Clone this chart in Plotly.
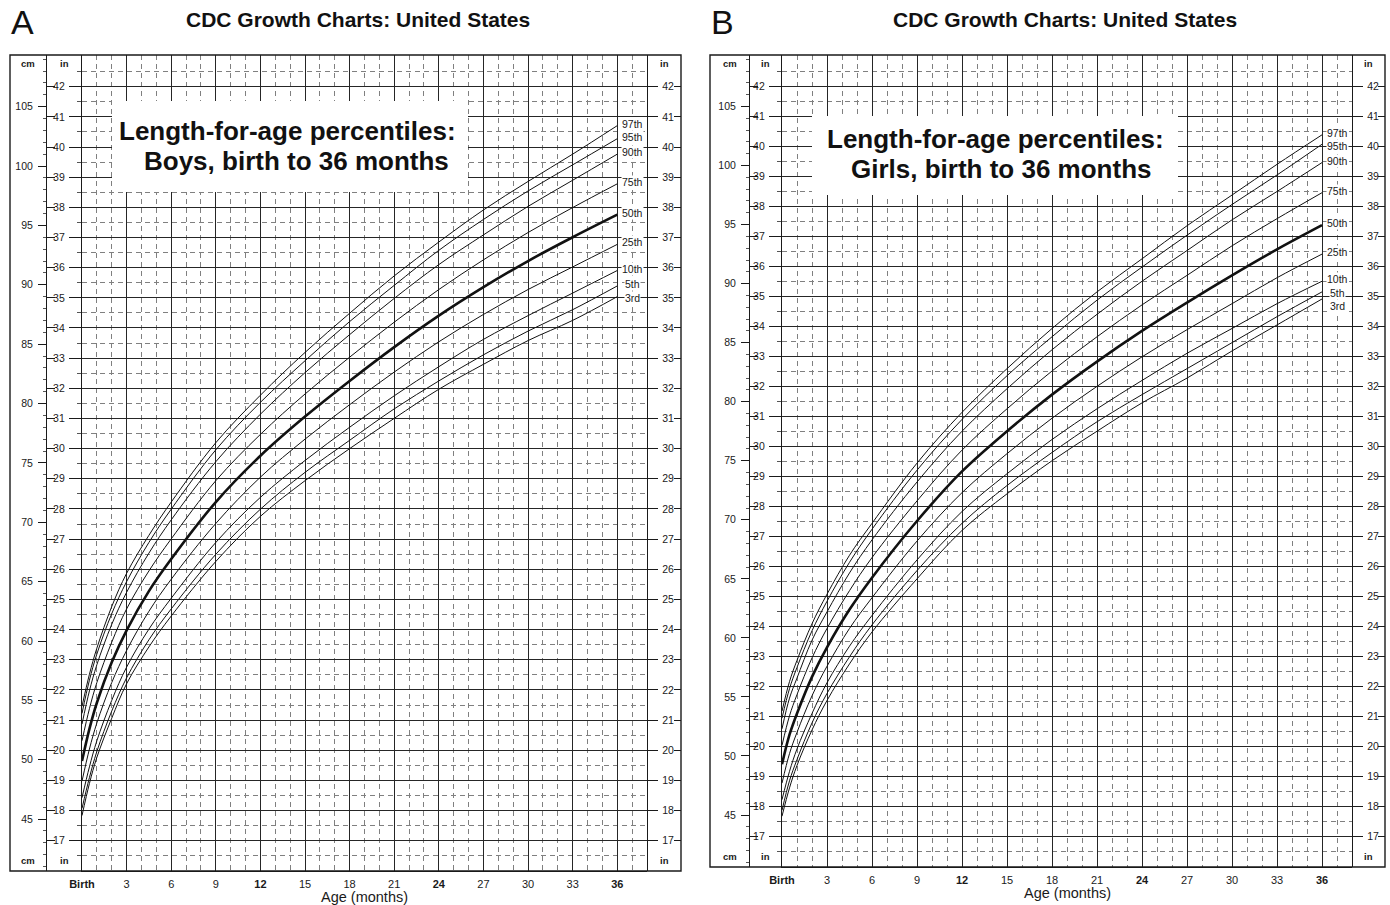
import plotly.graph_objects as go

W, H = 1390, 905

# ---------------- data (cm) ----------------
AGES = [0, 0.5, 1, 2, 3, 4.5, 6, 9, 12, 15, 18, 21, 24, 27, 30, 33, 36]
PERCENTILES = ["3rd", "5th", "10th", "25th", "50th", "75th", "90th", "95th", "97th"]

BOYS_P3 = [45.3, 48.0, 50.2, 53.5, 56.4, 59.5, 62.1, 66.7, 70.5, 73.5, 76.2, 78.75, 81.2, 83.3, 85.3, 87.0, 89.0]
BOYS_P5 = [45.9, 48.5, 50.7, 54.1, 56.9, 60.1, 62.7, 67.3, 71.1, 74.2, 76.9, 79.55, 81.9, 84.1, 86.1, 87.9, 89.9]
BOYS_P10 = [46.8, 49.4, 51.6, 55.0, 57.8, 61.0, 63.6, 68.3, 72.1, 75.2, 78.0, 80.65, 83.1, 85.4, 87.4, 89.3, 91.2]
BOYS_P25 = [48.2, 50.9, 53.1, 56.5, 59.2, 62.5, 65.2, 69.9, 73.8, 77.0, 79.9, 82.65, 85.2, 87.5, 89.6, 91.5, 93.4]
BOYS_P50 = [49.9, 52.6, 54.8, 58.2, 60.9, 64.2, 66.9, 71.7, 75.6, 78.9, 81.9, 84.75, 87.4, 89.8, 92.0, 94.0, 95.9]
BOYS_P75 = [51.6, 54.3, 56.5, 59.9, 62.7, 65.9, 68.6, 73.5, 77.4, 80.8, 83.9, 86.85, 89.6, 92.1, 94.4, 96.5, 98.5]
BOYS_P90 = [53.0, 55.8, 58.0, 61.4, 64.1, 67.4, 70.2, 75.1, 79.1, 82.6, 85.8, 88.85, 91.7, 94.2, 96.6, 98.8, 101.0]
BOYS_P95 = [53.9, 56.7, 58.9, 62.3, 65.0, 68.3, 71.1, 76.1, 80.1, 83.6, 86.9, 89.95, 92.9, 95.5, 97.9, 100.1, 102.3]
BOYS_P97 = [54.5, 57.2, 59.4, 62.9, 65.7, 68.9, 71.7, 76.7, 80.7, 84.3, 87.6, 90.75, 93.6, 96.3, 98.7, 101.0, 103.4]

GIRLS_P3 = [44.9, 47.3, 49.2, 52.2, 54.7, 57.8, 60.5, 65.0, 69.1, 72.2, 75.0, 77.5, 79.9, 82.0, 84.3, 86.5, 88.7]
GIRLS_P5 = [45.4, 47.9, 49.7, 52.8, 55.3, 58.4, 61.1, 65.7, 69.7, 72.9, 75.7, 78.3, 80.6, 82.8, 85.0, 87.2, 89.3]
GIRLS_P10 = [46.3, 48.7, 50.6, 53.6, 56.2, 59.3, 61.9, 66.6, 70.7, 73.9, 76.8, 79.4, 81.8, 84.1, 86.2, 88.3, 90.2]
GIRLS_P25 = [47.7, 50.2, 52.0, 55.1, 57.6, 60.8, 63.4, 68.2, 72.3, 75.6, 78.6, 81.3, 83.8, 86.1, 88.3, 90.5, 92.5]
GIRLS_P50 = [49.3, 51.8, 53.6, 56.7, 59.2, 62.4, 65.1, 69.9, 74.1, 77.5, 80.6, 83.4, 86.0, 88.4, 90.7, 92.9, 94.95]
GIRLS_P75 = [50.9, 53.4, 55.2, 58.3, 60.8, 64.0, 66.8, 71.6, 75.9, 79.4, 82.6, 85.5, 88.2, 90.7, 93.2, 95.5, 97.7]
GIRLS_P90 = [52.3, 54.9, 56.6, 59.8, 62.2, 65.5, 68.3, 73.2, 77.5, 81.1, 84.4, 87.4, 90.2, 92.8, 95.4, 97.8, 100.25]
GIRLS_P95 = [53.2, 55.7, 57.5, 60.6, 63.1, 66.4, 69.2, 74.2, 78.5, 82.2, 85.5, 88.6, 91.4, 94.1, 96.7, 99.2, 101.8]
GIRLS_P97 = [53.8, 56.3, 58.1, 61.2, 63.7, 67.0, 69.7, 74.8, 79.1, 82.8, 86.2, 89.3, 92.1, 94.9, 97.5, 100.1, 102.6]

BOYS = [BOYS_P3, BOYS_P5, BOYS_P10, BOYS_P25, BOYS_P50, BOYS_P75, BOYS_P90, BOYS_P95, BOYS_P97]
GIRLS = [GIRLS_P3, GIRLS_P5, GIRLS_P10, GIRLS_P25, GIRLS_P50, GIRLS_P75, GIRLS_P90, GIRLS_P95, GIRLS_P97]

MONTH_TICKS = list(range(0, 37, 3))
MONTH_TEXT = ["<b>Birth</b>", "3", "6", "9", "<b>12</b>", "15", "18", "21", "<b>24</b>",
              "27", "30", "33", "<b>36</b>"]
MONTH_MINOR = [m for m in range(1, 38) if m % 3]
INCH_TICKS = list(range(17, 43))
INCH_HALF = [i + 0.5 for i in range(16, 43)]
CM_TICKS = list(range(45, 106, 5))
CM_MINOR = [c for c in range(41, 110) if c % 5]

TITLE = "CDC Growth Charts: United States"

FONT = "Liberation Sans, Arial, Helvetica, sans-serif"
INK = "#1a1a1a"
GRID_MAJOR = "#262626"
GRID_MINOR = "#808080"


def px(x):
    return x / W


def py(y):
    return 1 - y / H


PANELS = [
    dict(data=BOYS, letter="A", letter_x=22, title_x=358,
         fl=10, sep=46, birth=82, gr=647, fr=681, top=55, bot=871,
         cm=(40.63, 109.35), box=(112, 101, 468, 192),
         lines=("Length-for-age percentiles:", "Boys, birth to 36 months"),
         text_x=(287, 296), text_y=(131, 161), xlab_y=897),
    dict(data=GIRLS, letter="B", letter_x=722, title_x=1065,
         fl=710, sep=749, birth=782, gr=1352, fr=1385, top=55, bot=867,
         cm=(40.6, 109.36), box=(812, 116, 1178, 195),
         lines=("Length-for-age percentiles:", "Girls, birth to 36 months"),
         text_x=(995, 1001), text_y=(139, 169), xlab_y=893),
]

fig = go.Figure()
layout = {}
shapes = []
annotations = []

for i, p in enumerate(PANELS):
    xid = "x" if i == 0 else "x2"
    xname = "xaxis" if i == 0 else "xaxis2"
    n0 = 1 + 5 * i
    yids = ["y" if n == 1 else f"y{n}" for n in range(n0, n0 + 5)]
    ynames = ["yaxis" if n == 1 else f"yaxis{n}" for n in range(n0, n0 + 5)]
    ycm = yids[0]
    dom = [py(p["bot"]), py(p["top"])]
    inr = [p["cm"][0] / 2.54, p["cm"][1] / 2.54]
    tickfont = dict(family=FONT, size=10.5, color=INK)

    layout[xname] = dict(
        domain=[px(p["birth"]), px(p["gr"])], range=[0, 38], anchor=ycm,
        tickmode="array", tickvals=MONTH_TICKS, ticktext=MONTH_TEXT, ticks="",
        showgrid=True, gridcolor=GRID_MAJOR, gridwidth=1, zeroline=False,
        showline=True, linecolor=INK, linewidth=1.2, automargin=False,
        tickfont=dict(family=FONT, size=11, color=INK), ticklabelstandoff=3,
        minor=dict(tickmode="array", tickvals=MONTH_MINOR, showgrid=True,
                   gridcolor=GRID_MINOR, gridwidth=1, griddash="5px,4px", ticks=""),
        fixedrange=True,
    )
    common = dict(automargin=False, fixedrange=True, zeroline=False)
    # cm axis
    layout[ynames[0]] = dict(
        domain=dom, range=list(p["cm"]), anchor="free", position=px(p["sep"]), side="left",
        tickmode="array", tickvals=CM_TICKS, ticks="outside", ticklen=8, tickcolor=INK,
        showgrid=False, showline=True, linecolor=INK, linewidth=1,
        tickfont=tickfont, ticklabelstandoff=3,
        minor=dict(tickmode="array", tickvals=CM_MINOR, ticks="outside", ticklen=3,
                   tickcolor="#555", showgrid=False),
        **common,
    )
    # inner inch axis with the grid
    layout[ynames[1]] = dict(
        range=inr, overlaying=ycm, anchor=xid, side="left",
        tickmode="array", tickvals=INCH_TICKS, ticks="outside", ticklen=12, tickcolor=INK,
        showgrid=True, gridcolor=GRID_MAJOR, gridwidth=1,
        showline=True, linecolor=INK, linewidth=1.2, tickfont=tickfont, ticklabelstandoff=2,
        minor=dict(tickmode="array", tickvals=INCH_HALF, ticks="outside", ticklen=4,
                   tickcolor="#555", showgrid=True, gridcolor=GRID_MINOR, gridwidth=1,
                   griddash="5px,4px"),
        **common,
    )
    # dash from cm/in separator
    layout[ynames[2]] = dict(
        range=inr, overlaying=ycm, anchor="free", position=px(p["sep"]), side="right",
        tickmode="array", tickvals=INCH_TICKS, ticks="outside", ticklen=8, tickcolor=INK,
        showticklabels=False, showgrid=False, showline=False, **common,
    )
    # right inch axis
    layout[ynames[3]] = dict(
        range=inr, overlaying=ycm, anchor="free", position=px(p["gr"]), side="right",
        tickmode="array", tickvals=INCH_TICKS, ticks="outside", ticklen=10, tickcolor=INK,
        showticklabels=True, tickfont=tickfont, ticklabelstandoff=2,
        showgrid=False, showline=True, linecolor=INK, linewidth=1.2, **common,
    )
    # dash at right frame
    layout[ynames[4]] = dict(
        range=inr, overlaying=ycm, anchor="free", position=px(p["fr"]), side="left",
        tickmode="array", tickvals=INCH_TICKS, ticks="outside", ticklen=7, tickcolor=INK,
        showticklabels=False, showgrid=False, showline=False, **common,
    )

    # empty traces so that every inch axis is drawn
    for yk in yids[1:]:
        fig.add_trace(go.Scatter(x=[None], y=[None], mode="lines", xaxis=xid, yaxis=yk,
                                 hoverinfo="skip", showlegend=False))

    # percentile curves
    for name, vals in zip(PERCENTILES, p["data"]):
        fig.add_trace(go.Scatter(
            x=AGES, y=vals, mode="lines", name=name,
            line=dict(color="#111111", width=2.6 if name == "50th" else 1.0,
                      shape="spline", smoothing=1.0),
            xaxis=xid, yaxis=ycm, hoverinfo="skip", showlegend=False,
        ))

    # percentile labels at the right end, spaced so they do not overlap
    prev = None
    for name, vals in reversed(list(zip(PERCENTILES, p["data"]))):
        yv = vals[-1]
        if prev is not None:
            yv = min(yv, prev - 1.15)
        prev = yv
        annotations.append(dict(
            x=37.0, y=yv, xref=xid, yref=ycm, text=name, showarrow=False,
            font=dict(family=FONT, size=10.5, color=INK), bgcolor="white",
            borderpad=0, xanchor="center", yanchor="middle", yshift=2,
        ))

    # outer frame
    shapes.append(dict(type="rect", xref="paper", yref="paper",
                       x0=px(p["fl"]), x1=px(p["fr"]), y0=py(p["bot"]), y1=py(p["top"]),
                       line=dict(color=INK, width=1.4), layer="above"))
    # white caption box
    b = p["box"]
    shapes.append(dict(type="rect", xref="paper", yref="paper",
                       x0=px(b[0]), x1=px(b[2]), y0=py(b[3]), y1=py(b[1]),
                       fillcolor="white", line=dict(width=0), layer="above"))
    for txt, tx, ty in zip(p["lines"], p["text_x"], p["text_y"]):
        annotations.append(dict(
            x=px(tx), y=py(ty), xref="paper", yref="paper", text=f"<b>{txt}</b>",
            showarrow=False, xanchor="center", yanchor="middle",
            font=dict(family=FONT, size=26, color="#111"),
        ))

    # titles
    annotations.append(dict(x=px(p["title_x"]), y=py(20), xref="paper", yref="paper",
                            text=f"<b>{TITLE}</b>", showarrow=False, xanchor="center",
                            yanchor="middle", font=dict(family=FONT, size=21, color="#111")))
    annotations.append(dict(x=px(p["letter_x"]), y=py(22), xref="paper", yref="paper",
                            text=p["letter"], showarrow=False, xanchor="center",
                            yanchor="middle", font=dict(family=FONT, size=34, color="#111")))
    annotations.append(dict(x=px((p["birth"] + p["gr"]) / 2), y=py(p["xlab_y"]),
                            xref="paper", yref="paper", text="Age (months)", showarrow=False,
                            xanchor="center", yanchor="middle",
                            font=dict(family=FONT, size=14.5, color=INK)))
    # column captions
    cm_x = (p["fl"] + p["sep"]) / 2
    in_x = (p["sep"] + p["birth"]) / 2
    rin_x = (p["gr"] + p["fr"]) / 2
    for cx, t in ((cm_x, "cm"), (in_x, "in"), (rin_x, "in")):
        for cy in (p["top"] + 8, p["bot"] - 11):
            annotations.append(dict(x=px(cx), y=py(cy), xref="paper", yref="paper",
                                    text=f"<b>{t}</b>", showarrow=False, xanchor="center",
                                    yanchor="middle",
                                    font=dict(family=FONT, size=9.5, color=INK)))

fig.update_layout(
    width=W, height=H, margin=dict(l=0, r=0, t=0, b=0, pad=0, autoexpand=False),
    paper_bgcolor="white", plot_bgcolor="white",
    showlegend=False, shapes=shapes, annotations=annotations,
    font=dict(family=FONT, color=INK),
    **layout,
)

fig.write_html("out.html", config={"displayModeBar": False},
               post_script="document.body.style.margin='0px';")
